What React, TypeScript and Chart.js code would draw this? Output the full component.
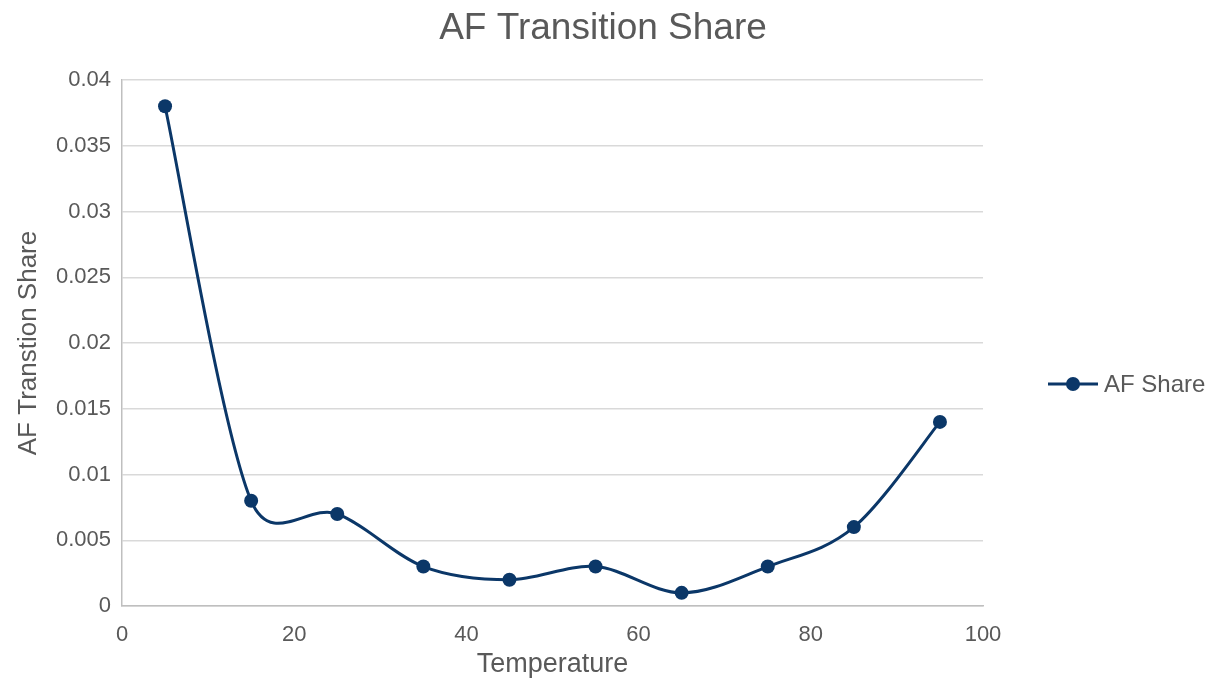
import React, { useEffect, useRef } from "react";
import { Chart, registerables } from "chart.js";

Chart.register(...registerables);

// Temperature bins (x) and the AF transition share measured in each bin (y)
const TEMPERATURES = [5, 15, 25, 35, 45, 55, 65, 75, 85, 95];
const AF_SHARE = [0.038, 0.008, 0.007, 0.003, 0.002, 0.003, 0.001, 0.003, 0.006, 0.014];

const CHART_TITLE = "AF Transition Share";
const X_TITLE = "Temperature";
const Y_TITLE = "AF Transtion Share";
const SERIES_LABEL = "AF Share";

const LINE_COLOR = "#0b3768";
const TEXT_COLOR = "#595959";
const GRID_COLOR = "#d9d9d9";
const AXIS_COLOR = "#bfbfbf";
const FONT = "'Liberation Sans', Arial, sans-serif";

// Spreadsheet-style smoothing: each point's tangent follows its two neighbours
// (one sixth of the chord), with arms kept short next to very short segments.
const SMOOTH_FACTOR = 1 / 6;
const ARM_LIMIT = 0.6;

const spreadsheetSmoothing = {
  id: "spreadsheetSmoothing",
  beforeDatasetDraw(chart: any, args: any) {
    const meta = chart.getDatasetMeta(args.index);
    const line = meta.dataset;
    const pts = meta.data;
    if (!line || !pts || pts.length < 2) return;
    line.updateControlPoints(chart.chartArea, "x");
    for (let i = 0; i < pts.length; i++) {
      const p = pts[i];
      const prev = pts[i - 1] || p;
      const next = pts[i + 1] || p;
      const dx = (next.x - prev.x) * SMOOTH_FACTOR;
      const dy = (next.y - prev.y) * SMOOTH_FACTOR;
      const arm = Math.hypot(dx, dy);
      const dPrev = Math.hypot(p.x - prev.x, p.y - prev.y);
      const dNext = Math.hypot(next.x - p.x, next.y - p.y);
      const kIn = arm > 0 ? Math.min(1, (ARM_LIMIT * dPrev) / arm) : 0;
      const kOut = arm > 0 ? Math.min(1, (ARM_LIMIT * dNext) / arm) : 0;
      p.cp1x = p.x - dx * kIn;
      p.cp1y = p.y - dy * kIn;
      p.cp2x = p.x + dx * kOut;
      p.cp2y = p.y + dy * kOut;
    }
    line._path = undefined;
  },
};

// Line-and-marker legend drawn to the right of the plot area
const sideLegend = {
  id: "sideLegend",
  afterDraw(chart: any) {
    const { ctx } = chart;
    const ds = chart.data.datasets[0];
    const x0 = 1048;
    const y = 384;
    ctx.save();
    ctx.strokeStyle = ds.borderColor;
    ctx.lineWidth = 3;
    ctx.beginPath();
    ctx.moveTo(x0, y);
    ctx.lineTo(x0 + 50, y);
    ctx.stroke();
    ctx.fillStyle = ds.pointBackgroundColor;
    ctx.beginPath();
    ctx.arc(x0 + 25, y, 7, 0, Math.PI * 2);
    ctx.fill();
    ctx.fillStyle = TEXT_COLOR;
    ctx.font = `24px ${FONT}`;
    ctx.textBaseline = "middle";
    ctx.textAlign = "left";
    ctx.fillText(ds.label, x0 + 56, y + 1);
    ctx.restore();
  },
};

export default function App() {
  const canvasRef = useRef<HTMLCanvasElement | null>(null);

  useEffect(() => {
    const canvas = canvasRef.current;
    if (!canvas) return;
    const chart = new Chart(canvas, {
      type: "scatter",
      data: {
        datasets: [
          {
            label: SERIES_LABEL,
            data: TEMPERATURES.map((t, i) => ({ x: t, y: AF_SHARE[i] })),
            showLine: true,
            tension: 0.4,
            borderColor: LINE_COLOR,
            backgroundColor: LINE_COLOR,
            pointBackgroundColor: LINE_COLOR,
            pointBorderColor: LINE_COLOR,
            borderWidth: 3,
            pointRadius: 7,
            pointBorderWidth: 0,
          },
        ],
      },
      plugins: [spreadsheetSmoothing, sideLegend],
      options: {
        responsive: false,
        animation: false,
        devicePixelRatio: 1,
        layout: { padding: 0 },
        plugins: {
          legend: { display: false },
          tooltip: { enabled: false },
          title: {
            display: true,
            text: CHART_TITLE,
            color: TEXT_COLOR,
            font: { family: FONT, size: 37, weight: "normal" },
            padding: { top: 7, bottom: 28.6 },
          },
        },
        scales: {
          x: {
            type: "linear",
            min: 0,
            max: 100,
            afterFit: (scale: any) => {
              scale.height = 75;
            },
            ticks: {
              stepSize: 20,
              color: TEXT_COLOR,
              font: { family: FONT, size: 22 },
              padding: 8,
            },
            grid: { display: false },
            border: { display: true, color: AXIS_COLOR, width: 1.5 },
            title: {
              display: true,
              text: X_TITLE,
              color: TEXT_COLOR,
              font: { family: FONT, size: 27 },
              padding: { top: 0, bottom: 0 },
            },
          },
          y: {
            type: "linear",
            min: 0,
            max: 0.04,
            afterFit: (scale: any) => {
              scale.width = 122;
            },
            ticks: {
              stepSize: 0.005,
              color: TEXT_COLOR,
              font: { family: FONT, size: 22 },
              padding: 11,
              callback: (v: any) => String(Number(Number(v).toFixed(3))),
            },
            grid: { color: GRID_COLOR, lineWidth: 1.5, drawTicks: false },
            border: { display: true, color: AXIS_COLOR, width: 1.5 },
            title: {
              display: true,
              text: Y_TITLE,
              color: TEXT_COLOR,
              font: { family: FONT, size: 26 },
              padding: { top: 13, bottom: 0 },
            },
          },
          // empty right-hand band that leaves room for the legend
          legendBand: {
            type: "linear",
            position: "right",
            afterFit: (scale: any) => {
              scale.width = 223;
            },
            ticks: { display: false },
            grid: { display: false },
            border: { display: false },
          },
        },
      },
    });
    return () => chart.destroy();
  }, []);

  return (
    <div style={{ position: "absolute", left: 0, top: 0, width: 1206, height: 681, background: "#ffffff" }}>
      <canvas ref={canvasRef} width={1206} height={681} />
    </div>
  );
}
